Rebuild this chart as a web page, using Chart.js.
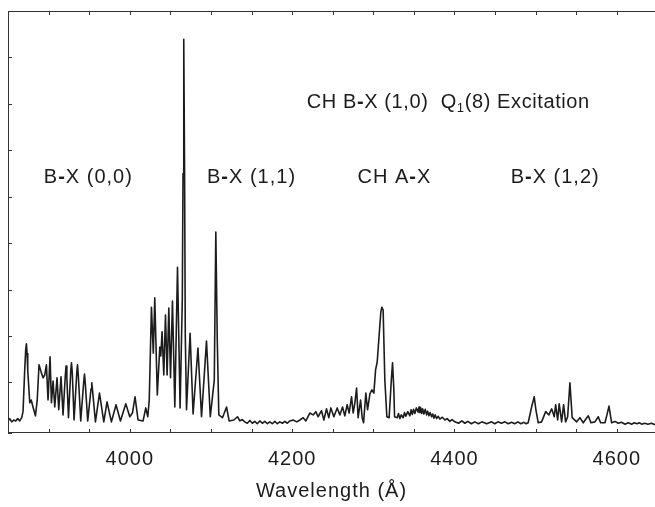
<!DOCTYPE html>
<html>
<head>
<meta charset="utf-8">
<script src="https://cdn.jsdelivr.net/npm/chart.js@4.4.0/dist/chart.umd.min.js"></script>
<style>
  html, body { margin: 0; padding: 0; background: #fff; }
  #wrap { width: 655px; height: 507px; }
</style>
</head>
<body>
<div id="wrap"><canvas id="spectrum" width="655" height="507"></canvas></div>
<script>
// [wavelength (Angstrom), intensity (arb. units)], one array per region
const bx00 = [[3850,0.17],[3852.1,0.22],[3854.6,0.15],[3857,0.19],[3859.5,0.17],[3862,0.22],[3864.4,0.17],[3866.9,0.24],[3868.5,0.37],[3870.6,1.27],[3871.8,1.70],[3872.7,1.83],[3873.5,1.62],[3874.3,1.27],[3876.8,0.56],[3878.6,0.62],[3880.8,0.47],[3883.8,0.28],[3886,0.62],[3888.2,1.38],[3891.2,1.20],[3893.2,1.10],[3895.3,1.16],[3897.3,1.38],[3899.3,0.62],[3901.8,1.55],[3903.5,0.56],[3905.5,1.03],[3907.6,0.47],[3910.4,1.10],[3912.5,0.41],[3915.3,1.12],[3917.8,0.30],[3920.6,1.15],[3921.5,1.35],[3922.5,1.10],[3924.5,0.24],[3927.3,1.25],[3928.2,1.42],[3929.2,1.20],[3931.4,0.19],[3934.7,1.20],[3935.6,1.38],[3936.6,1.15],[3939.6,0.17],[3943.3,1.02],[3944.2,1.18],[3945.2,0.98],[3948.2,0.17],[3952.3,0.86],[3953.2,0.99],[3954.2,0.82],[3957.7,0.15],[3962.7,0.77],[3968,0.15],[3972,0.58],[3977.4,0.15],[3983.1,0.52],[3988.5,0.17],[3995.1,0.54],[4000,0.26],[4003.3,0.34],[4006.5,0.69],[4010.2,0.19],[4016.4,0.17],[4019.7,0.45],[4022.2,0.26]];
const bx11 = [[4024,0.62],[4026.7,2.62],[4029,1.63],[4030.8,2.82],[4033.9,0.73],[4037,1.76],[4038.2,1.57],[4039.8,2.09],[4041.9,1.16],[4044,2.45],[4046,1.16],[4048.1,2.60],[4050.2,1.10],[4052.6,2.75],[4055.5,0.47],[4058.8,3.48],[4062,0.45],[4064.7,2.77],[4065.6,5.5],[4066.5,8.39],[4067.5,5.6],[4068.4,2.0],[4069.9,0.41],[4074.3,2.06],[4078,0.32],[4084,1.74],[4088.4,0.26],[4094.5,1.89],[4099.2,0.26],[4104.1,1.05],[4106,4.24],[4107.8,1.91],[4109.7,0.30],[4114.2,0.24],[4119.2,0.47],[4122.4,0.17],[4128.2,0.19],[4132.7,0.26],[4135.6,0.17],[4138.5,0.20],[4141.7,0.15],[4144.8,0.12],[4147.9,0.18],[4151,0.12],[4154,0.16],[4157,0.11],[4160.2,0.17],[4163.3,0.12],[4166.4,0.16],[4169.5,0.11],[4172.5,0.15],[4175.6,0.11],[4178.7,0.16],[4181.8,0.11],[4184.8,0.15],[4188,0.12],[4191,0.16],[4194,0.12],[4197.2,0.17]];
const chAX = [[4201.2,0.19],[4205.8,0.15],[4209.5,0.19],[4213.6,0.24],[4216.9,0.17],[4221.8,0.34],[4225.9,0.30],[4229.2,0.37],[4232,0.26],[4236.2,0.39],[4239.1,0.19],[4242.4,0.43],[4245.2,0.24],[4247.7,0.45],[4251.4,0.26],[4255.5,0.45],[4258.8,0.30],[4262.1,0.47],[4264.9,0.28],[4267.8,0.52],[4270.2,0.34],[4273.2,0.69],[4275.2,0.34],[4277.3,0.56],[4279.4,0.88],[4281.3,0.24],[4284.3,0.62],[4286.3,0.24],[4288,0.13],[4290.8,0.77],[4292.9,0.41],[4295.8,0.75],[4298.2,0.84],[4300.7,0.77],[4302.8,1.27],[4304.8,1.44],[4307.2,2.02],[4309.3,2.52],[4310.5,2.62],[4312.1,2.56],[4314.2,1.05],[4316.7,0.26],[4319.5,0.24],[4322.2,1.05],[4323.7,1.42],[4325.3,0.84],[4326.2,0.26],[4329.4,0.24],[4331,0.33],[4332.7,0.22],[4334.5,0.30],[4336.8,0.24],[4338.5,0.35],[4340.1,0.27],[4342.5,0.37],[4345,0.28],[4346.5,0.41],[4348.1,0.31],[4349.5,0.42],[4351.2,0.33],[4353,0.45],[4355.3,0.36],[4356.3,0.47],[4357.4,0.35],[4358.5,0.45],[4359.5,0.33],[4360.8,0.43],[4362.3,0.32],[4364,0.42],[4365.6,0.30],[4367,0.38],[4368.5,0.28],[4370,0.35],[4371.8,0.26],[4373.2,0.32],[4374.6,0.23],[4376.3,0.30],[4377.9,0.22],[4380,0.27],[4382,0.21],[4385,0.25],[4388.2,0.19],[4391,0.22],[4394.3,0.16],[4397,0.20]];
const bx12 = [[4400.5,0.15],[4405,0.12],[4409.1,0.17],[4412.8,0.12],[4416.5,0.16],[4420.8,0.11],[4425.1,0.15],[4429.5,0.11],[4433.8,0.15],[4439.7,0.11],[4445.7,0.15],[4449.6,0.11],[4453.5,0.15],[4457.8,0.12],[4462.1,0.15],[4466.2,0.11],[4470.4,0.14],[4474.2,0.11],[4478.1,0.15],[4481.8,0.11],[4485.5,0.14],[4488.2,0.11],[4490.8,0.13],[4495,0.47],[4498.2,0.69],[4500.3,0.41],[4503.2,0.13],[4507.3,0.15],[4512.3,0.37],[4516.3,0.30],[4519.7,0.43],[4522.9,0.26],[4524.6,0.52],[4527.1,0.19],[4529,0.54],[4532,0.15],[4534.4,0.52],[4536.9,0.15],[4539.4,0.26],[4542.2,0.99],[4545,0.24],[4550.5,0.15],[4554.5,0.24],[4558.6,0.13],[4564.8,0.28],[4568.1,0.13],[4573,0.15],[4577.1,0.26],[4580,0.13],[4585.3,0.13],[4587.8,0.30],[4590.3,0.49],[4593.6,0.13],[4597.7,0.16],[4601.7,0.12],[4605.8,0.14],[4610,0.10],[4614.1,0.13],[4618.2,0.10],[4621.5,0.13],[4624.8,0.11],[4627.7,0.13],[4630.6,0.10],[4634.5,0.12],[4638.3,0.10],[4642.6,0.12],[4647,0.09]];

// band labels: text, wavelength position; all sit at the same intensity level
const bandLabels = ['B-X (0,0)', 'B-X (1,1)', 'CH A-X', 'B-X (1,2)'];
const bandLabelX = [3949, 4150, 4326, 4524];
const bandLabelY = 5.42;
const titleX = 4218; // left edge of the excitation label
const titleY = 7.03;

const ink = '#1c1c1c';
const fontFamily = "'Liberation Sans', Arial, sans-serif";
Chart.defaults.font.family = fontFamily;

// split a string so hyphens can be drawn bold like in the original figure
function richParts(text) {
  const parts = [];
  for (const ch of text) {
    const bold = ch === '-';
    const last = parts[parts.length - 1];
    if (last && last.bold === bold) last.t += ch;
    else parts.push({ t: ch, bold: bold, size: 20, dy: 0 });
  }
  return parts;
}

function drawParts(ctx, parts, x, y, align) {
  let total = 0;
  parts.forEach(p => {
    ctx.font = (p.bold ? 'bold ' : '') + p.size + 'px ' + fontFamily;
    p.w = ctx.measureText(p.t).width;
    total += p.w;
  });
  let cx = align === 'center' ? x - total / 2 : x;
  parts.forEach(p => {
    ctx.font = (p.bold ? 'bold ' : '') + p.size + 'px ' + fontFamily;
    ctx.fillText(p.t, cx, y + p.dy);
    cx += p.w;
  });
}

const framePlugin = {
  id: 'frame',
  beforeDraw(chart) {
    chart.ctx.letterSpacing = '1px';
  },
  afterDatasetsDraw(chart) {
    const ctx = chart.ctx;
    const { left, right, top, bottom } = chart.chartArea;
    const xs = chart.scales.x, ys = chart.scales.y;
    ctx.save();
    ctx.strokeStyle = '#333';
    ctx.lineWidth = 1;
    ctx.beginPath();
    ctx.moveTo(left + 0.5, bottom);
    ctx.lineTo(left + 0.5, top + 0.5);
    ctx.lineTo(right, top + 0.5);
    ctx.moveTo(left, bottom - 0.5);
    ctx.lineTo(right, bottom - 0.5);
    // ticks point inward on bottom, top and left
    xs.ticks.forEach(t => {
      const px = Math.round(xs.getPixelForValue(t.value)) + 0.5;
      ctx.moveTo(px, bottom); ctx.lineTo(px, bottom - 4);
      ctx.moveTo(px, top); ctx.lineTo(px, top + 4);
    });
    ys.ticks.forEach(t => {
      const py = Math.round(ys.getPixelForValue(t.value)) + 0.5;
      ctx.moveTo(left, py); ctx.lineTo(left + 4, py);
    });
    ctx.stroke();

    ctx.fillStyle = ink;
    ctx.textBaseline = 'middle';
    ctx.letterSpacing = '1px';
    bandLabels.forEach((txt, i) => {
      drawParts(ctx, richParts(txt), xs.getPixelForValue(bandLabelX[i]), ys.getPixelForValue(bandLabelY), 'center');
    });
    ctx.letterSpacing = '0.6px';
    const title = richParts('CH B-X (1,0)  Q')
      .concat([{ t: '1', bold: false, size: 13, dy: 6 }])
      .concat(richParts('(8) Excitation'));
    drawParts(ctx, title, xs.getPixelForValue(titleX), ys.getPixelForValue(titleY), 'left');
    ctx.restore();
  }
};

const points = bx00.concat(bx11, chAX, bx12).map(p => ({ x: p[0], y: p[1] }));

new Chart(document.getElementById('spectrum'), {
  type: 'line',
  data: {
    datasets: [{
      data: points,
      borderColor: ink,
      borderWidth: 1.6,
      borderJoinStyle: 'round',
      pointRadius: 0,
      tension: 0,
      fill: false
    }]
  },
  options: {
    responsive: false,
    animation: false,
    devicePixelRatio: 1,
    layout: { padding: { left: 8, top: 11, right: 0, bottom: 0 } },
    plugins: { legend: { display: false }, tooltip: { enabled: false } },
    scales: {
      x: {
        type: 'linear',
        min: 3850,
        max: 4647,
        grid: { display: false, drawTicks: false },
        border: { display: false },
        ticks: {
          stepSize: 50,
          includeBounds: false,
          autoSkip: false,
          maxRotation: 0,
          padding: 14,
          color: ink,
          font: { size: 20 },
          callback: v => (v % 200 === 0 ? String(v) : '')
        },
        title: {
          display: true,
          text: 'Wavelength (Å)',
          color: ink,
          font: { size: 20 },
          padding: { top: 0, bottom: 4 }
        },
        afterFit: s => { s.height = 74; s.paddingLeft = 0; s.paddingRight = 0; }
      },
      y: {
        min: -0.09,
        max: 9,
        grid: { display: false, drawTicks: false },
        border: { display: false },
        ticks: { display: false, stepSize: 1 },
        afterFit: s => { s.width = 0; }
      }
    }
  },
  plugins: [framePlugin]
});
</script>
</body>
</html>
